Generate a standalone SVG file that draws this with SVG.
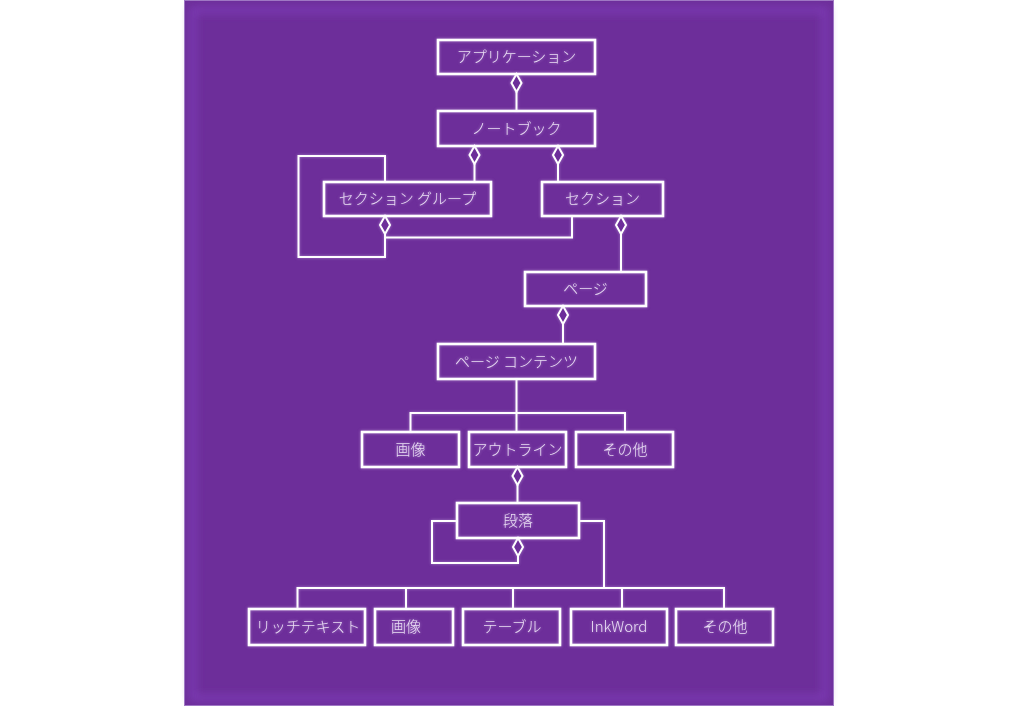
<svg xmlns="http://www.w3.org/2000/svg" width="1024" height="706" viewBox="0 0 1024 706">
  <defs>
    <filter id="vign" x="-10%" y="-10%" width="120%" height="120%">
      <feGaussianBlur stdDeviation="4"/>
    </filter>
    <filter id="glow" x="-20%" y="-40%" width="140%" height="180%">
      <feGaussianBlur in="SourceAlpha" stdDeviation="1.6" result="b"/>
      <feFlood flood-color="#d9c2f0" flood-opacity="0.55"/>
      <feComposite in2="b" operator="in" result="g"/>
      <feMerge><feMergeNode in="g"/><feMergeNode in="SourceGraphic"/></feMerge>
    </filter>
    <path id="dia" d="M0,0 L5,9 L0,18 L-5,9 Z"/>
  </defs>
  <style>
    .box rect { fill: none; stroke: #ffffff; stroke-width: 2.6; }
    .box text { font-family: "Noto Sans CJK JP", "Noto Sans", sans-serif; font-size: 15px; font-weight: 300; fill: #eadff4; text-anchor: middle; }
    #connectors path, #connectors line { fill: none; stroke: #ffffff; stroke-width: 2; }
    #connectors use { fill: #6d2e9a; stroke: #ffffff; stroke-width: 2; }
  </style>
  <rect x="0" y="0" width="1024" height="706" fill="#ffffff"/>
  <g id="panel">
    <rect x="184" y="0" width="650" height="706" fill="#6d2e9a"/>
    <rect x="193" y="10" width="632" height="688" fill="none" stroke="#7d3bb5" stroke-width="6" filter="url(#vign)"/>
    <rect x="184.5" y="0.5" width="649" height="705" fill="none" stroke="#9f78c4" stroke-width="1"/>
  </g>
  <g id="connectors" filter="url(#glow)">
    <use href="#dia" x="516.5" y="74"/>
    <line x1="516.5" y1="92" x2="516.5" y2="111"/>
    <use href="#dia" x="474.5" y="146"/>
    <line x1="474.5" y1="164" x2="474.5" y2="182"/>
    <use href="#dia" x="558" y="146"/>
    <line x1="558" y1="164" x2="558" y2="182"/>
    <path d="M385,182 V156 H298.5 V257 H385 V234"/>
    <use href="#dia" x="385" y="216"/>
    <path d="M572,216 V237.5 H385"/>
    <use href="#dia" x="621" y="216"/>
    <line x1="621" y1="234" x2="621" y2="272"/>
    <use href="#dia" x="563" y="306"/>
    <line x1="563" y1="324" x2="563" y2="344"/>
    <line x1="516.5" y1="379" x2="516.5" y2="432"/>
    <path d="M410.5,432 V413 H625 V432"/>
    <use href="#dia" x="517.5" y="467"/>
    <line x1="517.5" y1="485" x2="517.5" y2="503"/>
    <path d="M457,521 H432 V563 H518 V556"/>
    <use href="#dia" x="518" y="538"/>
    <path d="M579,521 H604 V588"/>
    <path d="M297.5,609 V588 H724 V609"/>
    <line x1="406" y1="588" x2="406" y2="609"/>
    <line x1="513" y1="588" x2="513" y2="609"/>
    <line x1="622" y1="588" x2="622" y2="609"/>
  </g>
  <g id="n-app" class="box" filter="url(#glow)">
    <rect x="438" y="40" width="157" height="34"/>
    <text x="516.5" y="62">アプリケーション</text>
  </g>
  <g id="n-notebook" class="box" filter="url(#glow)">
    <rect x="438" y="111" width="157" height="35"/>
    <text x="516.5" y="133.5">ノートブック</text>
  </g>
  <g id="n-sectiongroup" class="box" filter="url(#glow)">
    <rect x="324" y="182" width="167" height="34"/>
    <text x="407.5" y="204">セクション グループ</text>
  </g>
  <g id="n-section" class="box" filter="url(#glow)">
    <rect x="542" y="182" width="121" height="34"/>
    <text x="602.5" y="204">セクション</text>
  </g>
  <g id="n-page" class="box" filter="url(#glow)">
    <rect x="525" y="272" width="121" height="34"/>
    <text x="585.5" y="294">ページ</text>
  </g>
  <g id="n-pagecontent" class="box" filter="url(#glow)">
    <rect x="438" y="344" width="157" height="35"/>
    <text x="516.5" y="366.5">ページ コンテンツ</text>
  </g>
  <g id="n-image1" class="box" filter="url(#glow)">
    <rect x="362" y="432" width="97" height="35"/>
    <text x="410.5" y="454.5">画像</text>
  </g>
  <g id="n-outline" class="box" filter="url(#glow)">
    <rect x="469" y="432" width="97" height="35"/>
    <text x="517.5" y="454.5">アウトライン</text>
  </g>
  <g id="n-other1" class="box" filter="url(#glow)">
    <rect x="576" y="432" width="97" height="35"/>
    <text x="625" y="454.5">その他</text>
  </g>
  <g id="n-paragraph" class="box" filter="url(#glow)">
    <rect x="457" y="503" width="122" height="35"/>
    <text x="518" y="525.5">段落</text>
  </g>
  <g id="n-richtext" class="box" filter="url(#glow)">
    <rect x="249" y="609" width="116" height="36"/>
    <text x="308" y="632">リッチテキスト</text>
  </g>
  <g id="n-image2" class="box" filter="url(#glow)">
    <rect x="375" y="609" width="78" height="36"/>
    <text x="406" y="632">画像</text>
  </g>
  <g id="n-table" class="box" filter="url(#glow)">
    <rect x="463" y="609" width="97" height="36"/>
    <text x="512" y="632">テーブル</text>
  </g>
  <g id="n-inkword" class="box" filter="url(#glow)">
    <rect x="571" y="609" width="96" height="36"/>
    <text x="619" y="632">InkWord</text>
  </g>
  <g id="n-other2" class="box" filter="url(#glow)">
    <rect x="676" y="609" width="97" height="36"/>
    <text x="725" y="632">その他</text>
  </g>
</svg>
